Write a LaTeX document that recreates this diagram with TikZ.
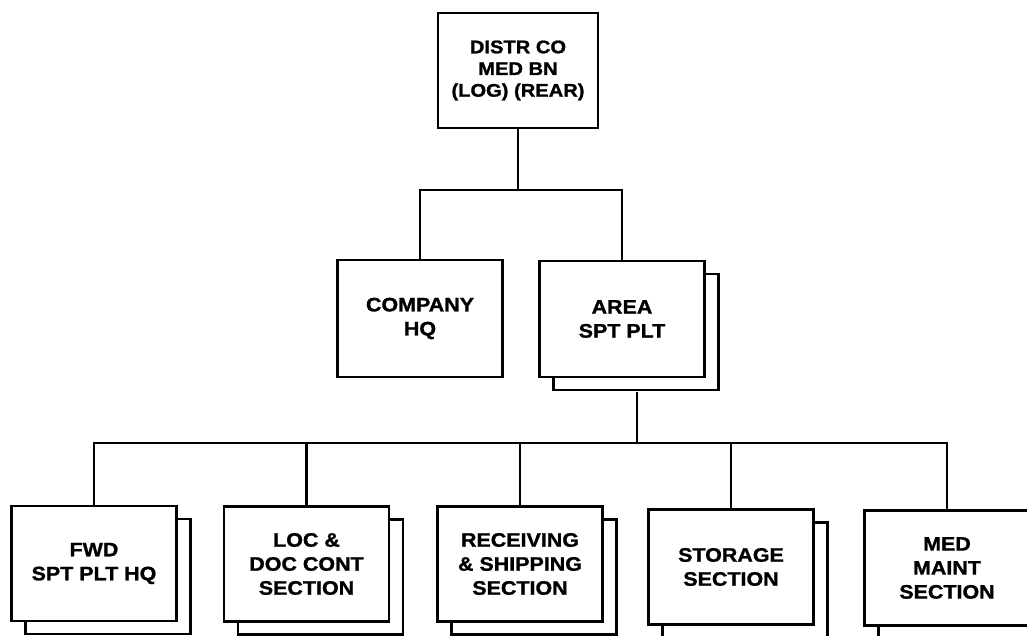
\documentclass[tikz,border=0pt]{standalone}
\usepackage{fontspec}
\setmainfont{Liberation Sans}[FakeStretch=1.1, BoldFeatures={FakeBold=1.2}]
\usetikzlibrary{shadows}
\begin{document}
\begin{tikzpicture}[x=1pt,y=-1pt,
  unitbox/.style={draw=black, fill=white, line width=2.7pt, rectangle, inner sep=0pt,
    minimum width=165pt, minimum height=115pt, align=center,
    font=\bfseries\fontsize{19.5}{24}\selectfont},
  topbox/.style={unitbox, minimum width=160pt, font=\bfseries\fontsize{18.3}{21.7}\selectfont},
  stackbox/.style={unitbox, general shadow={shadow xshift=14pt, shadow yshift=-13pt,
    draw=black, fill=white, line width=2.7pt}},
  link/.style={draw=black, line width=2.2pt}
]
\clip (0,0) rectangle (1027,636);
\fill[white] (0,0) rectangle (1027,636);

% nodes
\node[topbox] (top) at (518,70.5) {DISTR CO\\MED BN\\(LOG) (REAR)};
\node[unitbox, minimum height=117pt] (company) at (420,318.5) {COMPANY\\HQ};
\node[stackbox, minimum height=116pt] (area) at (622,319) {AREA\\SPT PLT};

\node[stackbox] (fwd)  at (94,563.5)  {FWD\\SPT PLT HQ};
\node[stackbox] (loc)  at (306.5,564) {LOC \&\\DOC CONT\\SECTION};
\node[stackbox] (rec)  at (520,564)   {RECEIVING\\\& SHIPPING\\SECTION};
\node[stackbox] (stor) at (731,567)   {STORAGE\\SECTION};
\node[stackbox] (med)  at (947,568)   {MED\\MAINT\\SECTION};

% connector coordinates
\coordinate (hm) at (520,190);
\coordinate (hb) at (637,443);
\coordinate (areash) at ([shift={(15,14)}]area.south);

% connectors
\draw[link] (top.south) -- (top.south |- hm);
\draw[link] (company.north) -- (company.north |- hm) -- (area.north |- hm) -- (area.north);
\draw[link] (areash) -- (areash |- hb);
\draw[link] (fwd.north) -- (fwd.north |- hb) -- (med.north |- hb) -- (med.north);
\draw[link] (loc.north) -- (loc.north |- hb);
\draw[link] (rec.north) -- (rec.north |- hb);
\draw[link] (stor.north) -- (stor.north |- hb);
\end{tikzpicture}
\end{document}
